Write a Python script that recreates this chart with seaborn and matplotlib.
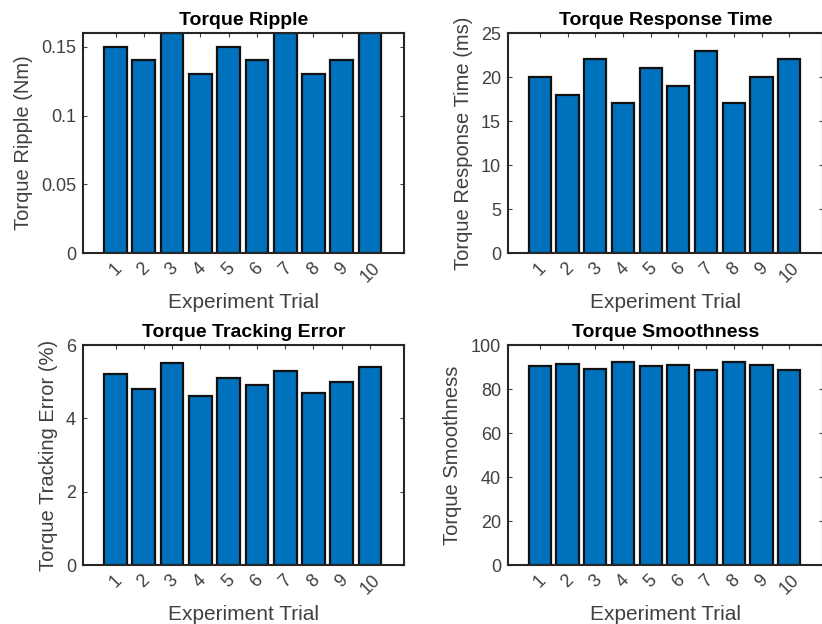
import matplotlib
matplotlib.use("Agg")
import matplotlib.pyplot as plt
import seaborn as sns
import pandas as pd

trials = ["1", "2", "3", "4", "5", "6", "7", "8", "9", "10"]
ripple = [0.15, 0.14, 0.16, 0.13, 0.15, 0.14, 0.16, 0.13, 0.14, 0.16]
response = [20, 18, 22, 17, 21, 19, 23, 17, 20, 22]
tracking = [5.2, 4.8, 5.5, 4.6, 5.1, 4.9, 5.3, 4.7, 5.0, 5.4]
smooth = [90.5, 91.2, 88.9, 92.3, 90.3, 91.0, 88.7, 92.5, 91.0, 88.8]

titles = ["Torque Ripple", "Torque Response Time", "Torque Tracking Error", "Torque Smoothness"]
ylabels = ["Torque Ripple (Nm)", "Torque Response Time (ms)", "Torque Tracking Error (%)", "Torque Smoothness"]
ylims = [(0, 0.16), (0, 25), (0, 6), (0, 100)]
yticks = [[0, 0.05, 0.1, 0.15], [0, 5, 10, 15, 20, 25], [0, 2, 4, 6], [0, 20, 40, 60, 80, 100]]
yticklabels = [["0", "0.05", "0.1", "0.15"], None, None, None]

sns.set_theme(style="white")
plt.rcParams['font.family'] = ['Liberation Sans', 'DejaVu Sans']

W, H = 822, 624
fig = plt.figure(figsize=(W / 100, H / 100), dpi=100)
boxes = [(83, 33, 404, 253), (508, 33, 822.5, 253), (83, 345, 404, 565), (508, 345, 822.5, 565)]
data = [ripple, response, tracking, smooth]
txt = "#404040"
for i, (x0, y0, x1, y1) in enumerate(boxes):
    ax = fig.add_axes([x0 / W, 1 - y1 / H, (x1 - x0) / W, (y1 - y0) / H])
    df = pd.DataFrame({"trial": trials, "val": data[i]})
    sns.barplot(data=df, x="trial", y="val", order=trials, color="#0072BD",
                saturation=1, edgecolor="#111111", linewidth=1.6, width=0.8, ax=ax)
    ax.set_xlim(-1.15, 10.2)
    ax.set_ylim(*ylims[i])
    ax.set_yticks(yticks[i])
    if yticklabels[i] is not None:
        ax.set_yticklabels(yticklabels[i])
    ax.set_title(titles[i], fontsize=14, fontweight="bold", color="black", pad=6)
    ax.set_ylabel(ylabels[i], fontsize=14.5, color=txt, labelpad=6)
    ax.set_xlabel("Experiment Trial", fontsize=15, color=txt, labelpad=5)
    ax.tick_params(axis="both", direction="in", length=3, width=0.8, colors=txt,
                   labelsize=13, top=True, right=True, bottom=True, left=True, pad=5)
    for lbl in ax.get_xticklabels():
        lbl.set_rotation(45)
    for s in ax.spines.values():
        s.set_color("#262626")
        s.set_linewidth(1.5)
        s.set_visible(True)

fig.savefig("out.png", dpi=100, facecolor="white")
